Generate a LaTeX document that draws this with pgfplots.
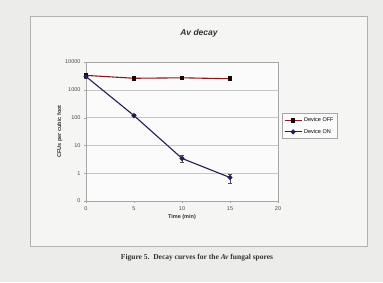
\documentclass[border=0pt]{standalone}
\usepackage{pgfplots}
\pgfplotsset{compat=1.18}
\usepackage{fontspec}
\setmainfont{Liberation Sans}
\newfontfamily\serifcap{Liberation Serif}
\definecolor{bg}{HTML}{ECECEA}
\definecolor{frame}{HTML}{F5F5F3}
\definecolor{offc}{HTML}{8B1A1A}
\definecolor{onc}{HTML}{1F1F55}
\begin{document}
\begin{tikzpicture}[x=1pt,y=1pt]
\fill[bg] (0,0) rectangle (383,282);
\draw[gray!60,fill=frame] (30,36) rectangle (367,266);
\node[font=\bfseries\itshape\fontsize{8.5}{9}\selectfont, text=black!80] at (199,249) {Av decay};
\node[font=\serifcap\bfseries\fontsize{7.5}{9}\selectfont, text=black!80] at (197,24) {Figure 5.\ \ Decay curves for the \textit{Av} fungal spores};
\begin{axis}[
  at={(86pt,81pt)}, anchor=south west,
  scale only axis, width=192pt, height=139pt,
  xmin=0, xmax=20, ymode=log, ymin=0.1, ymax=10000,
  xtick={0,5,10,15,20},
  ytick={0.1,1,10,100,1000,10000},
  yticklabels={0,1,10,100,1000,10000},
  /pgf/number format/assume math mode=true,
  tick label style={font=\fontsize{5.5}{6}\selectfont, text=black!70},
  axis line style={gray!70},
  ymajorgrids, grid style={gray!45},
  tick style={gray!70}, minor tick num=0,
  major tick length=2pt, tick align=outside,
  xtick pos=bottom, ytick pos=left,
  yminorticks=false,
  axis background/.style={fill=white!97!gray},
  xlabel={Time (min)}, ylabel={CFUs per cubic foot},
  label style={font=\bfseries\fontsize{5.5}{6}\selectfont, text=black!80},
  xlabel style={yshift=3pt},
  ylabel style={yshift=-4pt},
  legend style={at={(1.02,0.63)}, anchor=north west, font=\fontsize{5.5}{6}\selectfont, draw=gray!70, fill=white!97!gray, row sep=2pt, inner sep=2pt},
  legend cell align=left,
  clip=false,
]
\addplot[offc, line width=1.1pt, mark=square*, mark size=1.7pt, mark options={fill=black!80!offc, draw=black!80!offc}]
  coordinates {(0,3300) (5,2600) (10,2700) (15,2500)};
\addlegendentry{Device OFF}
\addplot[onc, line width=1.1pt, mark=*, mark size=1.9pt, mark options={fill=onc, draw=onc},
  error bars/.cd, y dir=both, y explicit, error bar style={black!70, line width=0.6pt}]
  coordinates {(0,3000) +- (0,400) (5,118) +- (0,10) (10,3.4) +- (0,0.9) (15,0.7) +- (0,0.25)};
\addlegendentry{Device ON}
\end{axis}
\end{tikzpicture}
\end{document}
